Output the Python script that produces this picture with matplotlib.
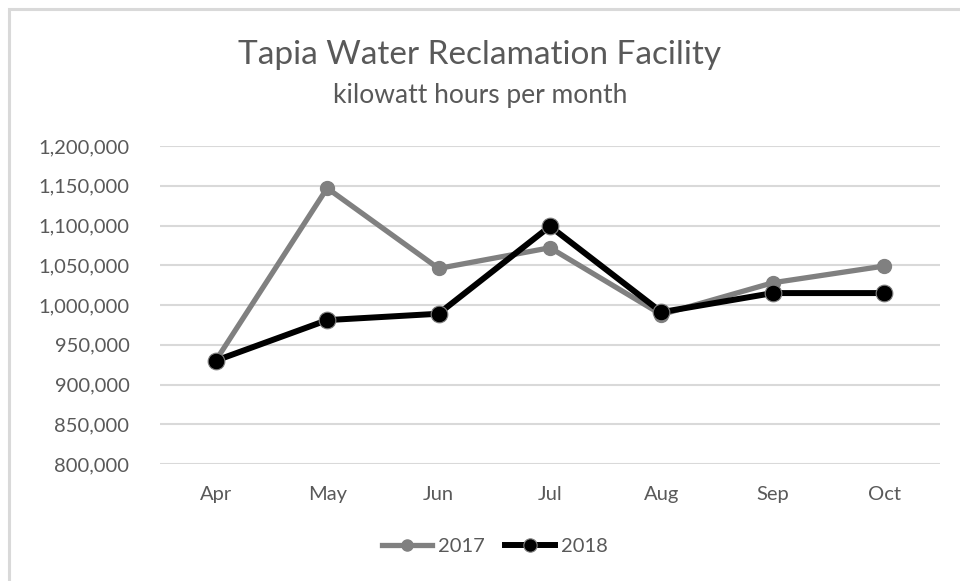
import matplotlib.pyplot as plt
import matplotlib.ticker as mticker
from matplotlib.patches import Rectangle

months = ['Apr', 'May', 'Jun', 'Jul', 'Aug', 'Sep', 'Oct']
kwh_2017 = [930000, 1147000, 1046000, 1072000, 988000, 1028000, 1049000]
kwh_2018 = [930000, 981000, 989000, 1099000, 991000, 1015000, 1015000]
y_ticks = [800000, 850000, 900000, 950000, 1000000, 1050000, 1100000, 1150000, 1200000]

plt.rcParams['font.family'] = ['Lato', 'DejaVu Sans']
txt = '#595959'

fig = plt.figure(figsize=(9.6, 5.81), dpi=100)
# chart area border
fig.patches.append(Rectangle((9 / 960, -0.1), 1.2, 1 - 9 / 581 + 0.1, transform=fig.transFigure,
                             fill=False, edgecolor='#d9d9d9', linewidth=2.2, zorder=0))

ax = fig.add_axes([160 / 960, 1 - 464 / 581, 780 / 960, 318 / 581])
x = list(range(len(months)))
ax.plot(x, kwh_2017, color='#808080', linewidth=3.8, marker='o', markersize=10,
        markerfacecolor='#808080', markeredgecolor='#808080', label='2017', zorder=3)
ax.plot(x, kwh_2018, color='#000000', linewidth=4.3, marker='o', markersize=12,
        markerfacecolor='#000000', markeredgecolor='#7f7f7f', markeredgewidth=0.8,
        label='2018', zorder=4)

ax.set_xlim(-0.5, 6.5)
ax.set_ylim(800000, 1200000)
ax.set_yticks(y_ticks)
ax.yaxis.set_major_formatter(mticker.FuncFormatter(lambda v, p: f'{int(v):,}'))
ax.set_xticks(x)
ax.set_xticklabels(months)
ax.grid(axis='y', color='#d9d9d9', linewidth=1.5)
ax.set_axisbelow(True)
for s in ax.spines.values():
    s.set_visible(False)
ax.tick_params(axis='both', length=0, labelsize=14.5, colors=txt)
ax.tick_params(axis='y', pad=22)
ax.tick_params(axis='x', pad=16)

fig.text(0.5, 1 - 55 / 581, 'Tapia Water Reclamation Facility', ha='center', va='center',
         fontsize=24, color=txt)
fig.text(0.5, 1 - 95 / 581, 'kilowatt hours per month', ha='center', va='center',
         fontsize=19, color=txt)

leg = fig.legend(loc='center', bbox_to_anchor=(495 / 960, 1 - 546 / 581), ncol=2, frameon=False,
                 fontsize=14.5, handlelength=2.5, columnspacing=1.0, handletextpad=0.3,
                 markerscale=0.8)
for t in leg.get_texts():
    t.set_color(txt)

fig.savefig('out.png', dpi=100, facecolor='white')
